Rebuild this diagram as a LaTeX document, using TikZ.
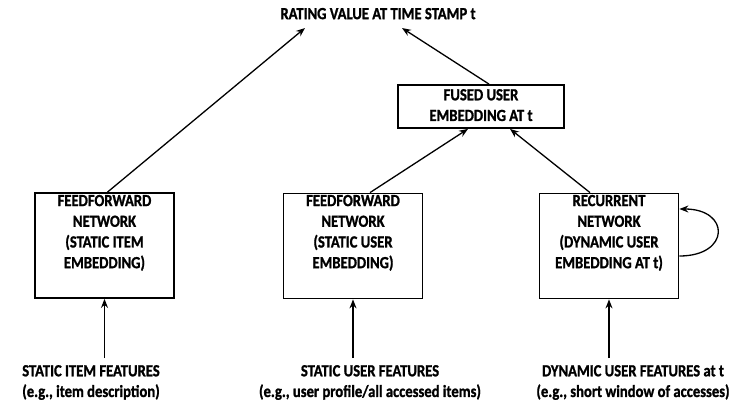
\documentclass[tikz,border=0pt]{standalone}
\usepackage{fontspec}
\setmainfont{Carlito}[BoldFeatures={FakeBold=1.3}]
\usetikzlibrary{arrows.meta}
\newcommand{\lb}[1]{\scalebox{0.86}[1]{\begin{tabular}{@{}c@{}}#1\end{tabular}}}
\begin{document}
\begin{tikzpicture}[x=1pt,y=-1pt,
  box/.style={draw,line width=1.8pt,minimum width=139pt,minimum height=105pt,inner sep=0pt},
  lbl/.style={font=\bfseries\fontsize{17}{20.7}\selectfont,align=center,inner sep=0pt},
  arr/.style={line width=1.3pt,-{Stealth[length=9pt,width=7pt,inset=3pt]}}]
\useasboundingbox (0,0) rectangle (736,402);
% top label
\node[lbl] (top) at (378,15) {\lb{RATING VALUE AT TIME STAMP t}};
\coordinate (tl) at (305,28);
\coordinate (tr) at (402,28);
% fused box
\node[draw,line width=1.8pt,minimum width=166pt,minimum height=43pt,inner sep=0pt] (fused) at (481,106.5) {};
\node[lbl] (fusedtxt) at (481,106.5) {\lb{FUSED USER\\EMBEDDING AT t}};
% boxes
\node[box] (b1) at (104.5,245.5) {};
\node[box] (b2) at (353,246) {};
\node[box] (b3) at (609,246) {};
\node[lbl] (b1t) at (104.5,233) {\lb{FEEDFORWARD\\NETWORK\\(STATIC ITEM\\EMBEDDING)}};
\node[lbl] (b2t) at (353,233) {\lb{FEEDFORWARD\\NETWORK\\(STATIC USER\\EMBEDDING)}};
\node[lbl] (b3t) at (609,233) {\lb{RECURRENT\\NETWORK\\(DYNAMIC USER\\EMBEDDING AT t)}};
% bottom texts
\node[lbl] (f1) at (91,382.5) {\lb{STATIC ITEM FEATURES\\(e.g., item description)}};
\node[lbl] (f2) at (370,382.5) {\lb{STATIC USER FEATURES\\(e.g., user profile/all accessed items)}};
\node[lbl] (f3) at (633,382.5) {\lb{DYNAMIC USER FEATURES at t\\(e.g., short window of accesses)}};
\coordinate (s1) at (104.5,358);
\coordinate (s2) at (353,358);
\coordinate (s3) at (609,358);
% arrows
\draw[arr] ([xshift=3pt]b1.north) -- (tl);
\draw[arr] ([xshift=8pt]fused.north) -- (tr);
\draw[arr] ([xshift=17pt]b2.north) -- ([xshift=-13pt]fused.south);
\draw[arr] ([xshift=-19pt]b3.north) -- ([xshift=29pt]fused.south);
\draw[arr] (s1) -- (b1.south);
\draw[arr] (s2) -- (b2.south);
\draw[arr] (s3) -- (b3.south);
\draw[arr] ([yshift=-10pt]b3.east) .. controls +(51,0) and +(51,0) .. ([yshift=37pt]b3.east);
\end{tikzpicture}
\end{document}
